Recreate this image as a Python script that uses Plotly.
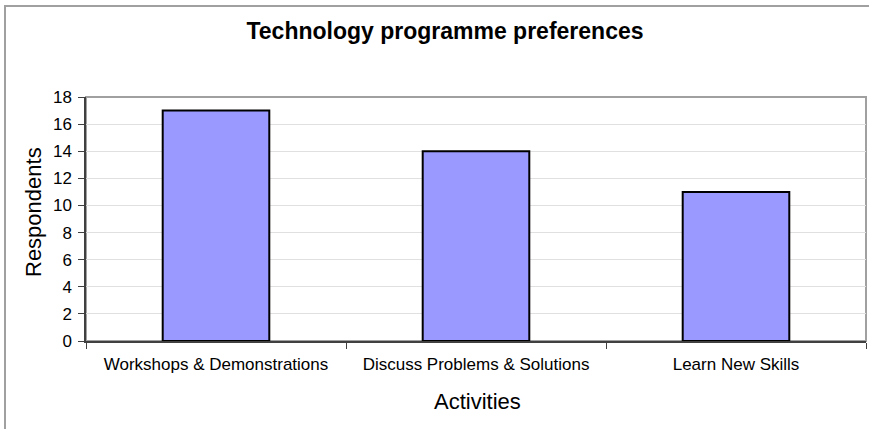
import plotly.graph_objects as go

categories = ["Workshops & Demonstrations", "Discuss Problems & Solutions", "Learn New Skills"]
respondents = [17, 14, 11]
y_ticks = [0, 2, 4, 6, 8, 10, 12, 14, 16, 18]

W, H = 869, 429
L, R, T, B = 86, 3, 97, 88
pw = W - L - R
ph = H - T - B

fig = go.Figure()
fig.add_trace(go.Bar(
    x=categories, y=respondents,
    marker=dict(color="#9999FF", line=dict(color="#000000", width=2)),
    width=0.41,
))

font_family = "Liberation Sans, Arial, sans-serif"

fig.update_layout(
    width=W, height=H,
    margin=dict(l=L, r=R, t=T, b=B),
    paper_bgcolor="white", plot_bgcolor="white",
    showlegend=False,
    font=dict(family=font_family, color="#000000", size=13),
    title=dict(text="<b>Technology programme preferences</b>", x=445 / W, xanchor="center",
               y=1 - 31 / H, yanchor="middle", font=dict(size=23, family=font_family)),
    xaxis=dict(
        showline=True, linecolor="#404040", linewidth=1.5,
        ticks="outside", tickson="boundaries", ticklen=6, tickcolor="#404040",
        showgrid=False, tickfont=dict(size=17), ticklabelstandoff=7,
        range=[-0.5, 2.5],
    ),
    yaxis=dict(
        range=[0, 18], tickvals=y_ticks,
        showline=True, linecolor="#404040", linewidth=1.5,
        ticks="outside", ticklen=6, tickcolor="#404040",
        showgrid=True, gridcolor="#e0e0e0", gridwidth=1,
        tickfont=dict(size=17), zeroline=False, ticklabelstandoff=3,
    ),
    annotations=[
        dict(text="Respondents", xref="paper", yref="paper",
             x=(33 - L) / pw, y=(T + ph - 212) / ph, xanchor="center", yanchor="middle",
             textangle=-90, showarrow=False, font=dict(size=22)),
        dict(text="Activities", xref="paper", yref="paper",
             x=(477 - L) / pw, y=-(401 - (T + ph)) / ph, xanchor="center", yanchor="middle",
             showarrow=False, font=dict(size=22)),
    ],
    shapes=[
        dict(type="rect", xref="paper", yref="paper", x0=0, x1=1, y0=0, y1=1,
             line=dict(color="#a0a0a0", width=2), layer="below"),
        dict(type="rect", xref="paper", yref="paper",
             x0=(5 - L) / pw, x1=(W + 10 - L) / pw,
             y0=-(H + 10 - (T + ph)) / ph, y1=(T + ph - 6) / ph,
             line=dict(color="#a0a0a0", width=2)),
    ],
)

fig.write_html("out.html")
